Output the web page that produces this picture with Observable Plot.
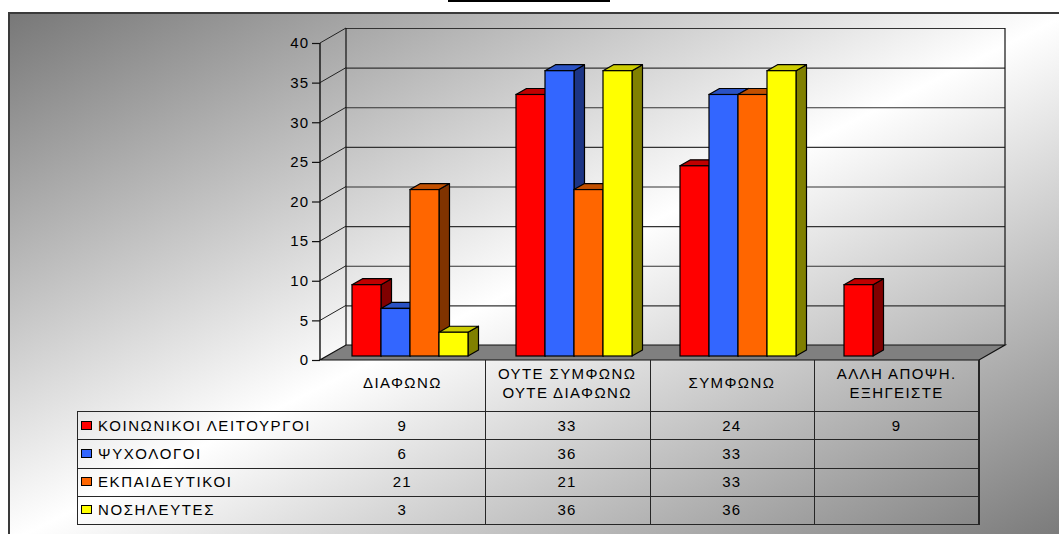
<!DOCTYPE html>
<html><head><meta charset="utf-8">
<script src="https://cdn.jsdelivr.net/npm/d3@7"></script>
<script src="https://cdn.jsdelivr.net/npm/@observablehq/plot@0.6"></script>
<style>
html,body{margin:0;padding:0;overflow:hidden;background:#fff;}
#page{position:relative;width:1059px;height:534px;overflow:hidden;font-family:Arial,"Liberation Sans",sans-serif;color:#000;}
#frame{position:absolute;left:8px;top:12px;width:1060px;height:530px;box-sizing:border-box;border-left:2px solid #3a3a3a;border-top:2px solid #3a3a3a;background:linear-gradient(to bottom right,#787878 0%,#ffffff 50%,#787878 100%);}
.layer{position:absolute;left:0;top:0;}
#title{position:absolute;left:448px;top:0px;width:162px;height:0px;border-bottom:2px solid #000;}
.hl{position:absolute;height:1px;background:#262626;}
.vl{position:absolute;width:1px;background:#262626;}
.cell{position:absolute;display:flex;align-items:center;justify-content:center;text-align:center;white-space:pre-line;font-size:15px;letter-spacing:1.4px;line-height:19px;}
.leg{position:absolute;display:flex;align-items:center;font-size:15px;letter-spacing:1.6px;white-space:nowrap;}
.key{display:inline-block;width:9px;height:7px;border:1px solid #000;margin-right:6px;}
</style></head>
<body><div id="page"><div id="frame"></div><div id="title"></div></div>
<script>
// ---- data ----
const categories = ["ΔΙΑΦΩΝΩ", "ΟΥΤΕ ΣΥΜΦΩΝΩ\nΟΥΤΕ ΔΙΑΦΩΝΩ", "ΣΥΜΦΩΝΩ", "ΑΛΛΗ ΑΠΟΨΗ.\nΕΞΗΓΕΙΣΤΕ"];
const series = ["ΚΟΙΝΩΝΙΚΟΙ ΛΕΙΤΟΥΡΓΟΙ", "ΨΥΧΟΛΟΓΟΙ", "ΕΚΠΑΙΔΕΥΤΙΚΟΙ", "ΝΟΣΗΛΕΥΤΕΣ"];
const koinonikoi = [9, 33, 24, 9];
const psychologoi = [6, 36, 33, null];
const ekpaideutikoi = [21, 21, 33, null];
const nosileutes = [3, 36, 36, null];
const yTicks = [0, 5, 10, 15, 20, 25, 30, 35, 40];
const frontColors = ["#ff0000", "#3366ff", "#ff6600", "#ffff00"];
const topColors = ["#c00000", "#2a52c4", "#c25000", "#cccc00"];
const sideColors = ["#800000", "#1c3585", "#803300", "#808000"];

const seriesValues = [koinonikoi, psychologoi, ekpaideutikoi, nosileutes];
const rows = [];
categories.forEach((c, i) => series.forEach((s, j) => {
  const v = seriesValues[j][i];
  if (v != null) rows.push({category: c, series: s, value: v});
}));

// ---- layout ----
const W = 1059, H = 534;
const mL = 320, mT = 43, mB = 174;
const mRframe = 80, mRbars = 82;
const WALL_DX = 26, WALL_DY = -15;
const BAR_DX = 10.5, BAR_DY = -6;
const page = document.getElementById("page");

// walls, floor, axis line via library scales
function walls(index, scales, values, dims) {
  const {y} = scales;
  const x0 = dims.marginLeft, x1 = dims.width - dims.marginRight;
  const g = d3.create("svg:g");
  const y0 = y(0), yTop = y(yTicks[yTicks.length - 1]);
  g.append("polygon")
    .attr("points", [[x0, y0], [x1, y0], [x1 + WALL_DX, y0 + WALL_DY], [x0 + WALL_DX, y0 + WALL_DY]].join(" "))
    .attr("fill", "#808080").attr("stroke", "#111").attr("stroke-width", 1.2);
  for (const v of yTicks.slice(1)) {
    g.append("line").attr("x1", x0).attr("y1", y(v)).attr("x2", x0 + WALL_DX).attr("y2", y(v) + WALL_DY)
      .attr("stroke", "#222").attr("stroke-width", 1);
  }
  for (const xx of [x0 + WALL_DX, x1 + WALL_DX]) {
    g.append("line").attr("x1", xx).attr("y1", y0 + WALL_DY).attr("x2", xx).attr("y2", yTop + WALL_DY)
      .attr("stroke", "#111").attr("stroke-width", 1.2);
  }
  g.append("line").attr("x1", x0).attr("y1", y0).attr("x2", x0).attr("y2", yTop)
    .attr("stroke", "#111").attr("stroke-width", 1.4);
  return g.node();
}

const frameChart = Plot.plot({
  width: W, height: H, marginLeft: mL, marginRight: mRframe, marginTop: mT, marginBottom: mB,
  style: {background: "transparent", fontFamily: "Arial, 'Liberation Sans', sans-serif", overflow: "visible"},
  x: {domain: categories, padding: 0, axis: null},
  y: {domain: [0, 40], axis: null},
  marks: [
    Plot.ruleY(yTicks.slice(1), {dx: WALL_DX, dy: WALL_DY, stroke: "#333", strokeWidth: 1.2}),
    walls,
    Plot.axisY(yTicks, {tickSize: 8, tickPadding: 3, fontSize: 15, stroke: "#111", fill: "#000", strokeWidth: 1.2, label: null})
  ]
});
frameChart.classList.add("layer");
frameChart.querySelectorAll("text").forEach(t => t.setAttribute("letter-spacing", "1.3"));
page.appendChild(frameChart);

const barChart = Plot.plot({
  width: W, height: H, marginLeft: mL, marginRight: mRbars, marginTop: mT, marginBottom: mB,
  style: {background: "transparent", overflow: "visible"},
  fx: {domain: categories, padding: 0, axis: null},
  x: {domain: series, paddingInner: 0, paddingOuter: 0.7375, axis: null},
  y: {domain: [0, 40], axis: null},
  color: {domain: series, range: frontColors},
  marks: [
    Plot.barY(rows, {fx: "category", x: "series", y: "value", fill: "series", stroke: "#000", strokeWidth: 1.2,
      dx: 7, dy: -4})
  ]
});
barChart.classList.add("layer");
page.appendChild(barChart);

// add 3D top and side faces to each bar drawn by Plot
const hexIndex = Object.fromEntries(frontColors.map((c, i) => [d3.color(c).formatHex(), i]));
barChart.querySelectorAll('g[aria-label="bar"] rect').forEach(rect => {
  const x = +rect.getAttribute("x"), y = +rect.getAttribute("y");
  const w = +rect.getAttribute("width"), h = +rect.getAttribute("height");
  let k = 0;
  const fill = rect.getAttribute("fill");
  if (fill && d3.color(fill)) k = hexIndex[d3.color(fill).formatHex()] ?? 0;
  const ns = "http://www.w3.org/2000/svg";
  const top = document.createElementNS(ns, "polygon");
  top.setAttribute("points", [[x, y], [x + BAR_DX, y + BAR_DY], [x + w + BAR_DX, y + BAR_DY], [x + w, y]].join(" "));
  top.setAttribute("fill", topColors[k]); top.setAttribute("stroke", "#000"); top.setAttribute("stroke-width", 1.2);
  top.setAttribute("stroke-linejoin", "round");
  const side = document.createElementNS(ns, "polygon");
  side.setAttribute("points", [[x + w, y], [x + w + BAR_DX, y + BAR_DY], [x + w + BAR_DX, y + h + BAR_DY], [x + w, y + h]].join(" "));
  side.setAttribute("fill", sideColors[k]); side.setAttribute("stroke", "#000"); side.setAttribute("stroke-width", 1.2);
  side.setAttribute("stroke-linejoin", "round");
  rect.parentNode.insertBefore(side, rect);
  rect.parentNode.insertBefore(top, rect);
});

// ---- data table below the chart ----
const tLeft = 77, tX0 = mL, tX1 = W - mRframe, tTop = H - mB, hdrBottom = 411, rowH = 28.25;
const colW = (tX1 - tX0) / categories.length;
function add(cls, css, text) {
  const d = document.createElement("div");
  d.className = cls; Object.assign(d.style, css);
  if (text != null) d.textContent = text;
  page.appendChild(d); return d;
}
for (let r = 0; r <= series.length; r++) {
  add("hl", {left: tLeft + "px", top: (hdrBottom + r * rowH) + "px", width: (tX1 - tLeft) + "px"});
}
add("vl", {left: tLeft + "px", top: hdrBottom + "px", height: (series.length * rowH + 1) + "px"});
for (let i = 1; i <= categories.length; i++) {
  add("vl", {left: (tX0 + i * colW - (i === categories.length ? 1 : 0)) + "px", top: tTop + "px",
    height: (hdrBottom + series.length * rowH - tTop + 1) + "px", width: i === categories.length ? "2px" : "1px"});
}
categories.forEach((c, i) => {
  add("cell", {left: (tX0 + i * colW) + "px", top: (tTop - 3) + "px", width: colW + "px", height: (hdrBottom - tTop) + "px"}, c);
});
series.forEach((s, j) => {
  const top = hdrBottom + j * rowH;
  const lg = add("leg", {left: (tLeft + 4) + "px", top: top + "px", height: rowH + "px"});
  const key = document.createElement("span"); key.className = "key"; key.style.background = frontColors[j];
  lg.appendChild(key); lg.appendChild(document.createTextNode(s));
  categories.forEach((c, i) => {
    const v = seriesValues[j][i];
    add("cell", {left: (tX0 + i * colW) + "px", top: top + "px", width: colW + "px", height: rowH + "px"}, v == null ? "" : String(v));
  });
});
</script></body></html>
